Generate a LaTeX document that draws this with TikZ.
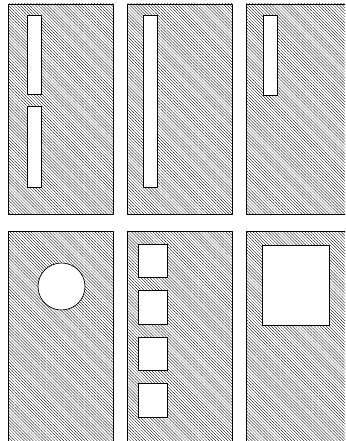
\documentclass[tikz,border=0pt]{standalone}
\usetikzlibrary{patterns.meta}
\begin{document}
\begin{tikzpicture}[x=1pt,y=-1pt,line width=.7pt,line join=round]
\tikzset{panel/.style={draw,pattern={Lines[angle=-45,distance=2.15pt,line width=.3pt]}},hole/.style={draw,fill=white}}
\useasboundingbox (0,0) rectangle (345,441);
\clip (0,0) rectangle (345,441);
% upper row
\draw[panel] (8,4) rectangle (113,214);
\draw[panel] (127,4) rectangle (232,214);
\draw[panel] (246,4) rectangle (351,214);
\draw[hole] (27,15) rectangle (41,94) (27,106) rectangle (41,187);
\draw[hole] (143,15) rectangle (157,187);
\draw[hole] (263,15) rectangle (277,95);
% lower row
\draw[panel] (8,231) rectangle (113,446);
\draw[panel] (127,231) rectangle (232,446);
\draw[panel] (246,231) rectangle (351,446);
\draw[hole] (61.5,286.5) circle (23.5pt);
\draw[hole] (138,244) rectangle (167,277) (138,290) rectangle (167,324)
(138,337) rectangle (167,370) (138,383) rectangle (167,417);
\draw[hole] (262,245) rectangle (329,325);
\end{tikzpicture}
\end{document}
